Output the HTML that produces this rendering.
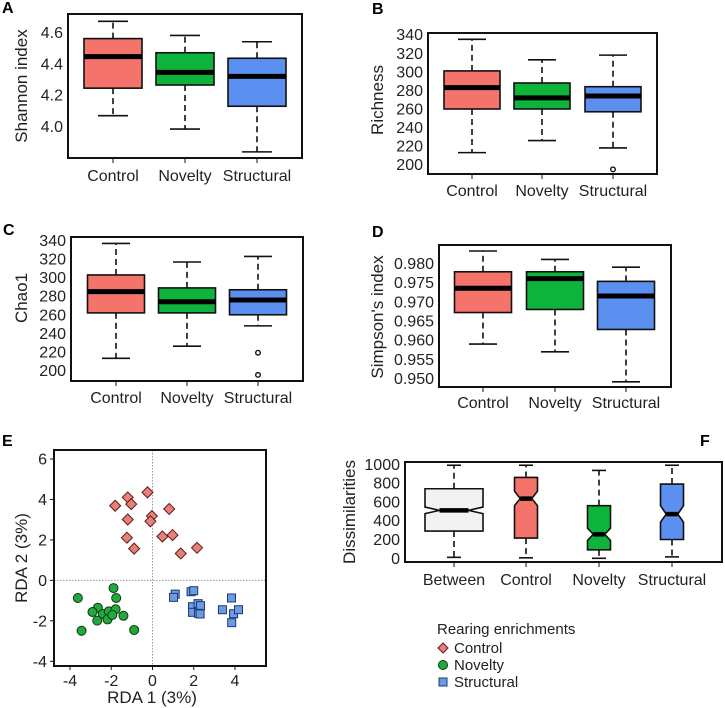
<!DOCTYPE html>
<html><head><meta charset="utf-8">
<style>
html,body{margin:0;padding:0;background:#fff;}
svg{display:block;font-family:"Liberation Sans",Arial,sans-serif;}
</style></head>
<body>
<svg id="fig" width="725" height="708" viewBox="0 0 725 708" xmlns="http://www.w3.org/2000/svg"></svg>
<script>
// ---- data ----
const groups = ["Control","Novelty","Structural"];
const shannonStats = [[4.07,4.245,4.445,4.56,4.67],[3.985,4.265,4.345,4.47,4.58],[3.84,4.13,4.32,4.435,4.54]];
const shannonTicks = [4.0,4.2,4.4,4.6];
const shannonOut = [[],[],[]];
const richStats = [[213,260,283,301,335],[226,260,272,288,313],[218,257,274,284,318]];
const richTicks = [200,220,240,260,280,300,320,340];
const richOut = [[],[],[195]];
const chaoStats = [[213,262,285,303,337],[226,262,274,289,317],[248,260,276,287,323]];
const chaoTicks = [200,220,240,260,280,300,320,340];
const chaoOut = [[],[],[219,195]];
const simpStats = [[0.959,0.9672,0.9735,0.9778,0.9832],[0.957,0.968,0.976,0.9778,0.981],[0.9492,0.9628,0.9715,0.9753,0.979]];
const simpTicks = [0.950,0.955,0.960,0.965,0.970,0.975,0.980];
const simpOut = [[],[],[]];
const dissGroups = ["Between","Control","Novelty","Structural"];
const dissStats = [[10,290,510,740,990],[5,215,635,860,990],[0,90,255,560,935],[15,200,470,790,990]];
const dissNotch = [[475,545],[560,715],[190,320],[385,560]];
const dissTicks = [0,200,400,600,800,1000];
const rdaXTicks = [-4,-2,0,2,4];
const rdaYTicks = [-4,-2,0,2,4,6];
const ctrlX = [-0.24,-1.2,-1.03,-1.81,0.81,-1.2,-0.03,-0.1,-1.24,-0.89,0.48,0.97,1.37,2.16];
const ctrlY = [4.35,4.1,3.77,3.69,3.53,3.01,3.18,2.92,2.11,1.57,2.17,2.24,1.33,1.61];
const novX = [-1.89,-3.62,-1.76,-2.65,-2.91,-2.41,-2.12,-1.79,-1.41,-2.68,-2.18,-1.95,-3.44,-0.89];
const novY = [-0.38,-0.87,-0.87,-1.35,-1.56,-1.66,-1.53,-1.43,-1.75,-1.99,-1.93,-1.71,-2.49,-2.45];
const strX = [1.1,1.02,1.87,2.0,1.94,2.21,2.33,1.94,2.23,2.31,3.39,3.83,3.93,4.17,3.84];
const strY = [-0.68,-0.84,-0.56,-0.51,-1.3,-1.15,-1.25,-1.58,-1.63,-1.66,-1.45,-0.87,-1.65,-1.45,-2.09];

const COLORS = {Control:"#f4736b",Novelty:"#0db33a",Structural:"#5b8ff0",Between:"#f2f2f2"};
const NS="http://www.w3.org/2000/svg";
const svg=document.getElementById('fig');
function mk(tag,attrs,parent){const e=document.createElementNS(NS,tag);for(const k in attrs)e.setAttribute(k,attrs[k]);(parent||svg).appendChild(e);return e;}
function txt(s,attrs,parent){const e=mk('text',attrs,parent);e.textContent=s;return e;}
function lin(d0,d1,r0,r1){return v=>r0+(v-d0)*(r1-r0)/(d1-d0);}

function panelLabel(s,x,y){
  const t=txt(s,{x:x,y:y,'font-size':16,'font-weight':'bold'});
  
  
}

function boxPanel(cfg){
  const g=mk('g',{});
  
  
  const y=lin(cfg.t0,cfg.t1,cfg.p0,cfg.p1);
  cfg.ticks.forEach(t=>{
    const l=txt(cfg.fmt(t),{x:cfg.x0-5,y:y(t)+5.5,'font-size':16,'text-anchor':'end',fill:'#222'},g);
    
    
  });
  const yl=txt(cfg.ylabel,{x:0,y:0,'font-size':17,'text-anchor':'middle',fill:'#222',transform:`translate(${cfg.ylx},${cfg.yly}) rotate(-90)`},g);
  
  
  cfg.cats.forEach((c,i)=>{
    const cx=cfg.centers[i], s=cfg.stats[i], w=cfg.widths[i]/2;
    const bg=mk('g',{},g);
    
    
    mk('line',{x1:cx,x2:cx,y1:y(s[3]),y2:y(s[4]),stroke:'#111','stroke-width':1.6,'stroke-dasharray':'6,4'},bg);
    mk('line',{x1:cx,x2:cx,y1:y(s[1]),y2:y(s[0]),stroke:'#111','stroke-width':1.6,'stroke-dasharray':'6,4'},bg);
    const cw=cfg.capw/2;
    mk('line',{x1:cx-cw,x2:cx+cw,y1:y(s[4]),y2:y(s[4]),stroke:'#111','stroke-width':1.6},bg);
    mk('line',{x1:cx-cw,x2:cx+cw,y1:y(s[0]),y2:y(s[0]),stroke:'#111','stroke-width':1.6},bg);
    if(cfg.notch){
      const n=cfg.notch[i], nw=w*0.5;
      const pts=[[cx-w,y(s[3])],[cx+w,y(s[3])],[cx+w,y(n[1])],[cx+nw,y(s[2])],[cx+w,y(n[0])],[cx+w,y(s[1])],[cx-w,y(s[1])],[cx-w,y(n[0])],[cx-nw,y(s[2])],[cx-w,y(n[1])]];
      mk('polygon',{points:pts.map(p=>p.join(',')).join(' '),fill:COLORS[c],stroke:'#111','stroke-width':1.6},bg);
      mk('line',{x1:cx-nw,x2:cx+nw,y1:y(s[2]),y2:y(s[2]),stroke:'#000','stroke-width':4.5},bg);
    } else {
      mk('rect',{x:cx-w,y:y(s[3]),width:2*w,height:y(s[1])-y(s[3]),fill:COLORS[c],stroke:'#111','stroke-width':1.6},bg);
      mk('line',{x1:cx-w,x2:cx+w,y1:y(s[2]),y2:y(s[2]),stroke:'#000','stroke-width':5},bg);
    }
    (cfg.outs?cfg.outs[i]:[]).forEach(o=>{
      const oc=mk('circle',{cx:cx,cy:y(o),r:2.3,fill:'none',stroke:'#111','stroke-width':1.4},bg);
      
      
    });
    mk('line',{x1:cx,x2:cx,y1:cfg.y1,y2:cfg.y1+5,stroke:'#111','stroke-width':1},g);
    const xl=txt(c,{x:cx,y:cfg.xly,'font-size':16,'text-anchor':'middle',fill:'#222'},g);
    
    
  });
  const fr=mk('rect',{x:cfg.x0,y:cfg.y0,width:cfg.x1-cfg.x0,height:cfg.y1-cfg.y0,fill:'none',stroke:'#111','stroke-width':2},g);
  
  
}

panelLabel('A',2,13);
boxPanel({name:'shannon-panel',cats:groups,stats:shannonStats,ticks:shannonTicks,outs:shannonOut,t0:4.0,t1:4.6,p0:126.7,p1:32.3,
  x0:68,x1:302,y0:14,y1:158,centers:[113,185,257],widths:[58,58,58],capw:30,fmt:v=>v.toFixed(1),
  ylabel:'Shannon index',ylx:27,yly:86,xly:181});
panelLabel('B',372,14);
boxPanel({name:'richness-panel',cats:groups,stats:richStats,ticks:richTicks,outs:richOut,t0:200,t1:340,p0:164.7,p1:34.7,
  x0:428,x1:657,y0:33,y1:174,centers:[472,542,613],widths:[56,56,56],capw:28,fmt:v=>String(v),
  ylabel:'Richness',ylx:383,yly:100,xly:196});
panelLabel('C',3,235);
boxPanel({name:'chao1-panel',cats:groups,stats:chaoStats,ticks:chaoTicks,outs:chaoOut,t0:200,t1:340,p0:370.3,p1:240.7,
  x0:71,x1:303,y0:237,y1:381,centers:[116,187,258],widths:[57,57,57],capw:28,fmt:v=>String(v),
  ylabel:'Chao1',ylx:27,yly:298,xly:403});
panelLabel('D',372,237);
boxPanel({name:'simpson-panel',cats:groups,stats:simpStats,ticks:simpTicks,outs:simpOut,t0:0.950,t1:0.980,p0:378.7,p1:263.3,
  x0:439,x1:671,y0:245,y1:387,centers:[483,555,626],widths:[57,57,57],capw:28,fmt:v=>v.toFixed(3),
  ylabel:"Simpson's index",ylx:383,yly:317,xly:408});

// ---- E: RDA scatter ----
panelLabel('E',2,446);
(function(){
  const g=mk('g',{});
  
  
  const X0=54,X1=266,Y0=450,Y1=666;
  const x=lin(-4,4,70,235), y=lin(-4,6,661.3,459);
  mk('line',{x1:x(0),x2:x(0),y1:Y0,y2:Y1,stroke:'#999','stroke-width':1,'stroke-dasharray':'1.5,1.5'},g);
  mk('line',{x1:X0,x2:X1,y1:y(0),y2:y(0),stroke:'#999','stroke-width':1,'stroke-dasharray':'1.5,1.5'},g);
  rdaXTicks.forEach(t=>{
    mk('line',{x1:x(t),x2:x(t),y1:Y1,y2:Y1+4,stroke:'#111'},g);
    const l=txt(String(t),{x:x(t),y:Y1+20,'font-size':16,'text-anchor':'middle',fill:'#222'},g);
    
    
  });
  rdaYTicks.forEach(t=>{
    mk('line',{x1:X0-4,x2:X0,y1:y(t),y2:y(t),stroke:'#111'},g);
    const l=txt(String(t),{x:X0-7,y:y(t)+5.5,'font-size':16,'text-anchor':'end',fill:'#222'},g);
    
    
  });
  ctrlX.forEach((v,i)=>{
    const cx=x(v),cy=y(ctrlY[i]),r=5.5;
    const p=mk('polygon',{points:`${cx},${cy-r} ${cx+r},${cy} ${cx},${cy+r} ${cx-r},${cy}`,fill:'#e8807a',stroke:'#5a1a16','stroke-width':1},g);
    
    
  });
  novX.forEach((v,i)=>{
    const p=mk('circle',{cx:x(v),cy:y(novY[i]),r:4.5,fill:'#22a83c',stroke:'#0a3a12','stroke-width':1},g);
    
    
  });
  strX.forEach((v,i)=>{
    const p=mk('rect',{x:x(v)-4,y:y(strY[i])-4,width:8,height:8,fill:'#6b9be6',stroke:'#1f3a6b','stroke-width':1},g);
    
    
  });
  const fr=mk('rect',{x:X0,y:Y0,width:X1-X0,height:Y1-Y0,fill:'none',stroke:'#111','stroke-width':2},g);
  
  
  const xt=txt('RDA 1 (3%)',{x:152,y:703,'font-size':17,'text-anchor':'middle',fill:'#222'},g);
  
  
  const yt=txt('RDA 2 (3%)',{x:0,y:0,'font-size':17,'text-anchor':'middle',fill:'#222',transform:'translate(27,558) rotate(-90)'},g);
  
  
})();

// ---- F: dissimilarities ----
panelLabel('F',700,446);
boxPanel({name:'dissimilarity-panel',cats:dissGroups,stats:dissStats,ticks:dissTicks,notch:dissNotch,t0:0,t1:1000,p0:558.3,p1:464.3,
  x0:405,x1:722,y0:462,y1:562,centers:[454,526,599,672],widths:[58,23,23,23],capw:14,fmt:v=>String(v),
  ylabel:'Dissimilarities',ylx:355,yly:512,xly:585});

// legend
(function(){
  const g=mk('g',{});
  
  
  const t=txt('Rearing enrichments',{x:437,y:634,'font-size':15,fill:'#222'},g);
  
  
  const ys=[648,665,682];
  const e1=mk('g',{},g);
  
  
  mk('polygon',{points:`443,${ys[0]-5} 448,${ys[0]} 443,${ys[0]+5} 438,${ys[0]}`,fill:'#e8807a',stroke:'#5a1a16'},e1);
  txt('Control',{x:454,y:ys[0]+5,'font-size':15,fill:'#222'},e1);
  const e2=mk('g',{},g);
  
  
  mk('circle',{cx:443,cy:ys[1],r:4.5,fill:'#22a83c',stroke:'#0a3a12'},e2);
  txt('Novelty',{x:454,y:ys[1]+5,'font-size':15,fill:'#222'},e2);
  const e3=mk('g',{},g);
  
  
  mk('rect',{x:439,y:ys[2]-4,width:8,height:8,fill:'#6b9be6',stroke:'#1f3a6b'},e3);
  txt('Structural',{x:454,y:ys[2]+5,'font-size':15,fill:'#222'},e3);
})();
</script>
</body></html>
